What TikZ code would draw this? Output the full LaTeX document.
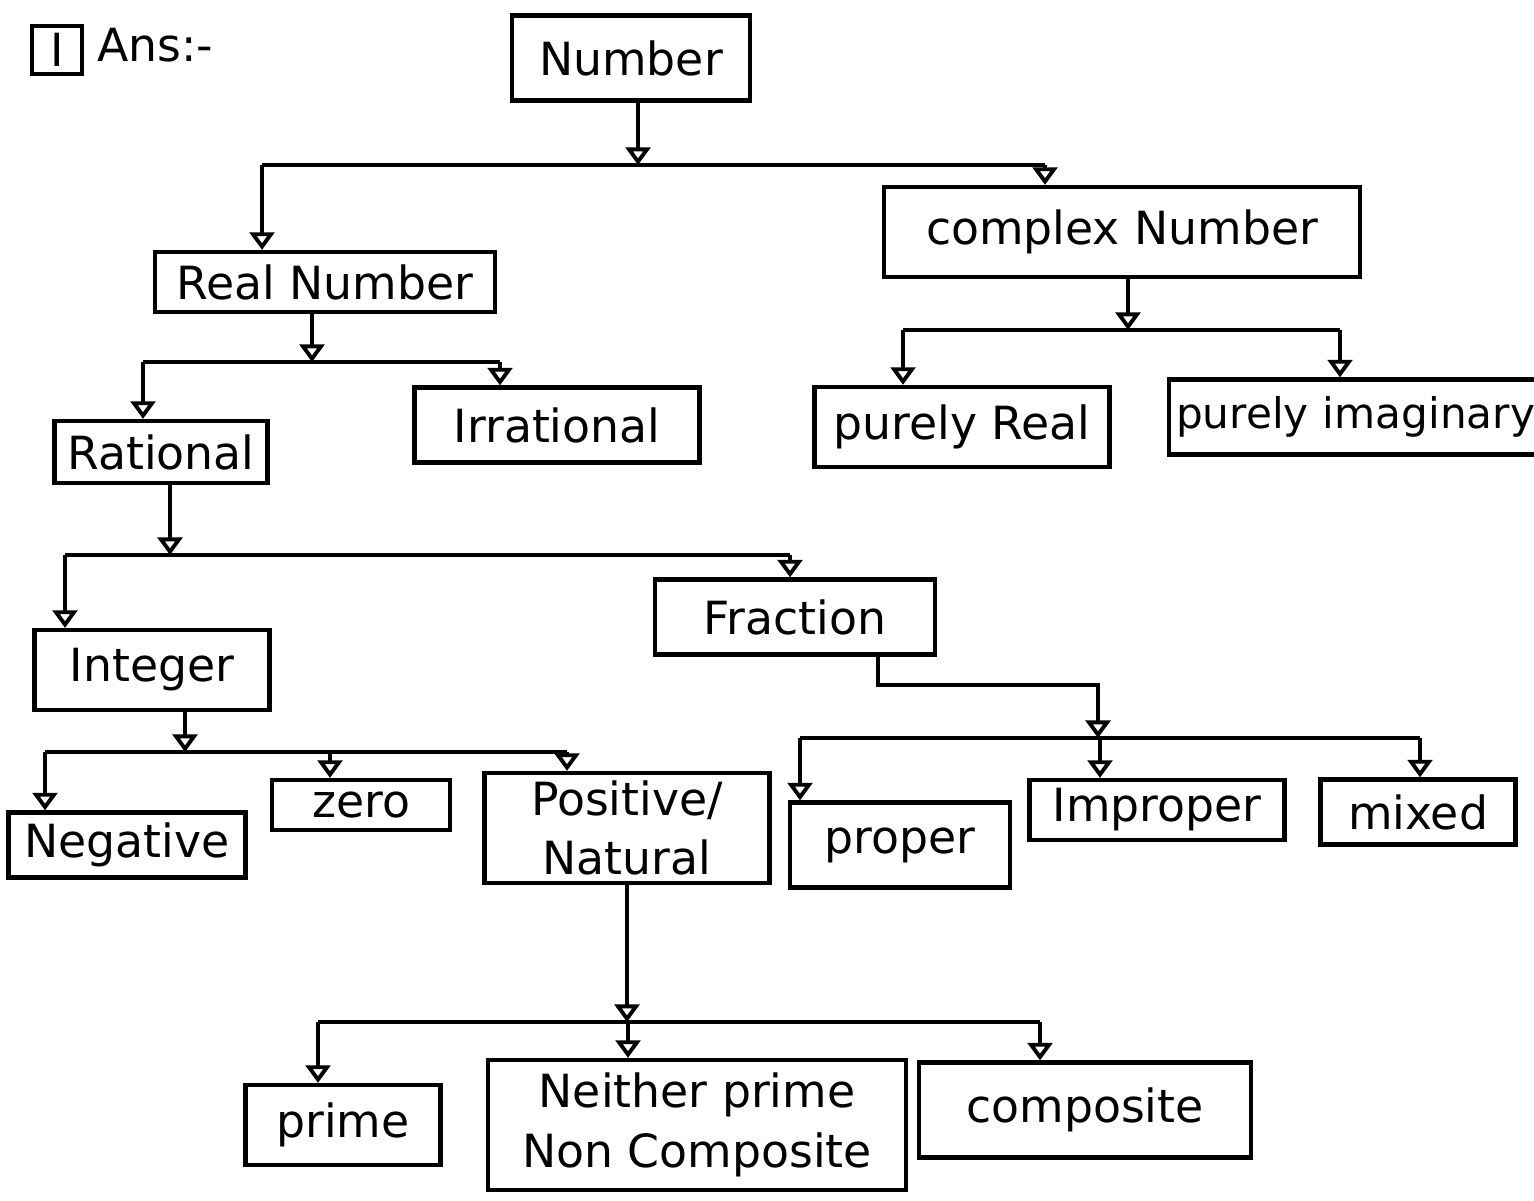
\documentclass[tikz,border=0pt]{standalone}
\usepackage{fontspec}
\setsansfont{DejaVu Sans}
\usetikzlibrary{arrows.meta}

\tikzset{
	box/.style = {draw, line width=1.2pt, font=\sffamily\fontsize{13}{17}\selectfont, inner sep=2pt, align=center},
	arr/.style = {line width=1.1pt, -{Triangle[open, length=5pt, width=7pt]}},
	bar/.style = {line width=1.1pt}
}

\begin{document}
\begin{tikzpicture}[x=0.01cm, y=-0.01cm]
	\useasboundingbox[fill=white] (0,0) rectangle (1534,1200);

	% heading
	\node (qno) at (57,50)	[box, minimum width=0.5cm, minimum height=0.42cm]	{I};
	\node (ans) at (155,45)	[font=\sffamily\fontsize{13}{17}\selectfont]	{Ans:-};

	% boxes
	\node (Number)	at ( 631,  58)	[box, minimum width=2.38cm, minimum height=0.85cm]	{Number};
	\node (Real)	at ( 325, 282)	[box, minimum width=3.40cm, minimum height=0.60cm]	{Real Number};
	\node (Complex)	at (1122, 232)	[box, minimum width=4.75cm, minimum height=0.90cm]	{complex Number};
	\node (Rational)	at ( 161, 452)	[box, minimum width=2.13cm, minimum height=0.62cm]	{Rational};
	\node (Irrational)	at ( 557, 425)	[box, minimum width=2.85cm, minimum height=0.75cm]	{Irrational};
	\node (PReal)	at ( 962, 427)	[box, minimum width=2.95cm, minimum height=0.80cm]	{purely Real};
	\node (PImag)	at (1167, 417)	[box, anchor=west, minimum height=0.75cm, text width=3.8cm, align=left, font=\sffamily\fontsize{12}{16}\selectfont]	{\mbox{purely imaginary}};
	\node (Integer)	at ( 152, 670)	[box, minimum width=2.35cm, minimum height=0.80cm]	{Integer};
	\node (Fraction)	at ( 795, 617)	[box, minimum width=2.80cm, minimum height=0.75cm]	{Fraction};
	\node (Negative)	at ( 127, 845)	[box, minimum width=2.37cm, minimum height=0.65cm]	{Negative};
	\node (Zero)	at ( 361, 805)	[box, minimum width=1.78cm, minimum height=0.50cm]	{zero};
	\node (Pos)	at ( 627, 828)	[box, minimum width=2.85cm, minimum height=1.10cm]	{Positive/\\Natural};
	\node (Proper)	at ( 900, 845)	[box, minimum width=2.20cm, minimum height=0.85cm]	{proper};
	\node (Improper)	at (1157, 810)	[box, minimum width=2.55cm, minimum height=0.60cm]	{Improper};
	\node (Mixed)	at (1418, 812)	[box, minimum width=1.95cm, minimum height=0.65cm]	{mixed};
	\node (Prime)	at ( 343,1125)	[box, minimum width=1.95cm, minimum height=0.80cm]	{prime};
	\node (Neither)	at ( 697,1125)	[box, minimum width=4.17cm, minimum height=1.30cm]	{Neither prime\\Non Composite};
	\node (Composite)	at (1085,1110)	[box, minimum width=3.32cm, minimum height=0.95cm]	{composite};

	% bars
	\coordinate (b1L) at ( 262, 165);	\coordinate (b1R) at (1045, 165);
	\coordinate (b2L) at ( 143, 362);	\coordinate (b2R) at ( 500, 362);
	\coordinate (c2L) at ( 903, 330);	\coordinate (c2R) at (1340, 330);
	\coordinate (b3L) at (  65, 555);	\coordinate (b3R) at ( 790, 555);
	\coordinate (b4L) at (  45, 752);	\coordinate (b4M) at ( 330, 752);	\coordinate (b4R) at ( 567, 752);
	\coordinate (f1)  at (1098, 685);
	\coordinate (b6L) at ( 800, 738);	\coordinate (b6M) at (1100, 738);	\coordinate (b6R) at (1420, 738);
	\coordinate (b5L) at ( 318,1022);	\coordinate (b5M) at ( 628,1022);	\coordinate (b5R) at (1040,1022);

	\draw[bar] (b1L) -- (b1R);
	\draw[bar] (b2L) -- (b2R);
	\draw[bar] (c2L) -- (c2R);
	\draw[bar] (b3L) -- (b3R);
	\draw[bar] (b4L) -- (b4R);
	\draw[bar] (b6L) -- (b6R);
	\draw[bar] (b5L) -- (b5R);

	% Number
	\draw[arr] ([xshift=0.07cm]Number.south) -- ([xshift=0.07cm]Number.south |- b1L);
	\draw[arr] (b1L) -- (b1L |- Real.north);
	\draw[arr] (b1R) -- (b1R |- Complex.north);

	% Real Number
	\draw[arr] ([xshift=-0.13cm]Real.south) -- ([xshift=-0.13cm]Real.south |- b2L);
	\draw[arr] (b2L) -- (b2L |- Rational.north);
	\draw[arr] (b2R) -- (b2R |- Irrational.north);

	% complex Number
	\draw[arr] ([xshift=0.06cm]Complex.south) -- ([xshift=0.06cm]Complex.south |- c2L);
	\draw[arr] (c2L) -- (c2L |- PReal.north);
	\draw[arr] (c2R) -- (c2R |- PImag.north);

	% Rational
	\draw[arr] ([xshift=0.09cm]Rational.south) -- ([xshift=0.09cm]Rational.south |- b3L);
	\draw[arr] (b3L) -- (b3L |- Integer.north);
	\draw[arr] (b3R) -- (b3R |- Fraction.north);

	% Integer
	\draw[arr] ([xshift=0.33cm]Integer.south) -- ([xshift=0.33cm]Integer.south |- b4L);
	\draw[arr] (b4L) -- (b4L |- Negative.north);
	\draw[arr] (b4M) -- (b4M |- Zero.north);
	\draw[arr] (b4R) -- (b4R |- Pos.north);

	% Fraction
	\draw[arr] ([xshift=0.83cm]Fraction.south) |- (f1) -- (f1 |- b6L);
	\draw[arr] (b6L) -- (b6L |- Proper.north);
	\draw[arr] (b6M) -- (b6M |- Improper.north);
	\draw[arr] (b6R) -- (b6R |- Mixed.north);

	% Positive
	\draw[arr] (Pos.south) -- (Pos.south |- b5L);
	\draw[arr] (b5L) -- (b5L |- Prime.north);
	\draw[arr] (b5M) -- (b5M |- Neither.north);
	\draw[arr] (b5R) -- (b5R |- Composite.north);
\end{tikzpicture}
\end{document}
